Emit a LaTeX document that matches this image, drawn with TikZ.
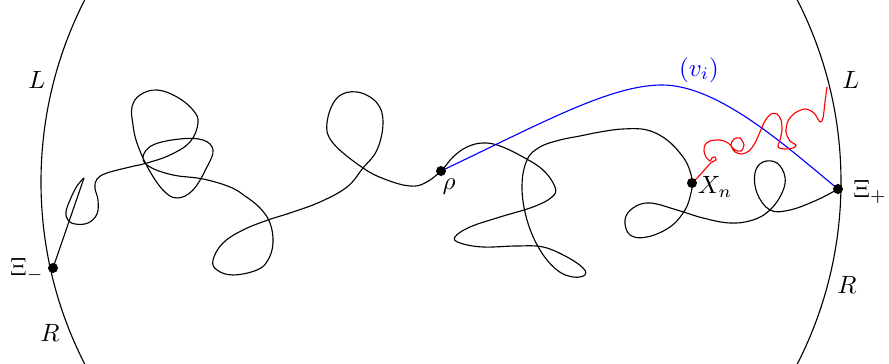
\documentclass[tikz,border=0pt]{standalone}
\begin{document}
\begin{tikzpicture}[x=0.4pt,y=-0.4pt,
  walk/.style={line width=0.45pt, black},
  dot/.style={fill=black},
  lbl/.style={inner sep=0pt}]
\useasboundingbox (0,0) rectangle (889,364);
\clip (0,0) rectangle (889,364);
% boundary circle
\coordinate (ctr) at (441,182);
\draw[line width=0.45pt] (ctr) circle[radius=160pt];
% key points
\coordinate (ximinus) at (53,268);
\coordinate (xiplus) at (838,189);
\coordinate (rho) at (441,171);
\coordinate (xn) at (692,183);
\coordinate (tip) at (84,178);
% black walk
\draw[walk] (ximinus) -- (tip);
\draw[walk] plot[smooth, tension=0.65] coordinates {
 (tip) (77,186) (70,200) (66,212) (68,220) (75,224)
 (88,223) (97,214) (98,200) (95,188) (97,179) (107,173) (130,167) (147,163)
 (170,155) (190,142) (198,123) (193,110) (177,97) (157,90) (140,95) (132,107)
 (133,125) (137,143) (148,168) (163,190) (177,198) (193,190) (207,167) (213,150)
 (203,140) (180,139) (153,145) (143,157) (150,167) (173,175) (203,179) (230,187)
 (245,196) (260,208) (270,223) (273,243) (268,260) (257,270) (233,275) (217,270)
 (213,260) (223,243) (243,230) (268,220) (290,213) (320,202) (347,187) (363,168)
 (377,150) (383,123) (377,103) (357,92) (337,98) (327,123) (333,143) (363,168)
 (387,180) (410,186) (425,183) (rho) (453,157) (467,147) (483,143) (500,146)
 (523,157) (543,170) (555,187) (552,197) (533,207) (500,217) (470,227) (455,237)
 (460,243) (483,247) (517,246) (543,247) (567,257) (583,268) (585,275) (573,277)
 (557,270) (540,250) (527,220) (522,187) (527,160) (540,147) (560,140) (580,136)
 (600,132) (623,129) (647,130) (667,140) (683,157) (690,171) (xn) (691,193)
 (685,210) (670,227) (647,237) (630,235) (625,220) (633,208) (650,203) (677,210)
 (703,218) (730,223) (753,220) (770,210) (782,193) (785,177) (777,163) (763,162)
 (755,173) (757,193) (770,210) (790,210) (817,200) (xiplus)};
% blue path
\draw[blue, line width=0.45pt] (rho) .. controls (540,124) and (610,85) .. (662,85)
  .. controls (720,85) and (790,150) .. (xiplus);
% red path
\draw[red, line width=0.45pt] plot[smooth, tension=0.5] coordinates {
 (xn) (700,175) (707,167) (712,162) (716,160) (715,157) (712,158) (710,161)
 (706,157) (704,151) (705,145) (710,141) (720,140) (728,143) (735,150) (741,151)
 (744,145) (740,138) (734,139) (731,145) (735,152) (742,154) (749,151) (755,143)
 (760,132) (765,121) (771,114) (777,114) (781,120) (782,130) (780,140) (778,147)
 (784,149) (793,148) (796,145) (790,141) (786,132) (788,121) (795,113) (805,109)
 (814,113) (820,122) (823,118) (825,102) (827,87)};
% dots
\fill[dot] (ximinus) circle[radius=2pt];
\fill[dot] (xiplus) circle[radius=2pt];
\fill[dot] (rho) circle[radius=2pt];
\fill[dot] (xn) circle[radius=2pt];
% labels
\node[lbl] (lL) at (37,80) {$L$};
\node[lbl] (lR) at (50,333) {$R$};
\node[lbl] (rL) at (851,80) {$L$};
\node[lbl] (rR) at (847,285) {$R$};
\node[lbl] (lxim) at (27,270) {$\Xi_-$};
\node[lbl] (lxip) at (870,192) {$\Xi_+$};
\node[lbl] (lrho) at (449,187) {$\rho$};
\node[lbl] (lxn) at (715,187) {$X_n$};
\node[lbl, blue] (lvi) at (699,70) {$(v_i)$};
\end{tikzpicture}
\end{document}
